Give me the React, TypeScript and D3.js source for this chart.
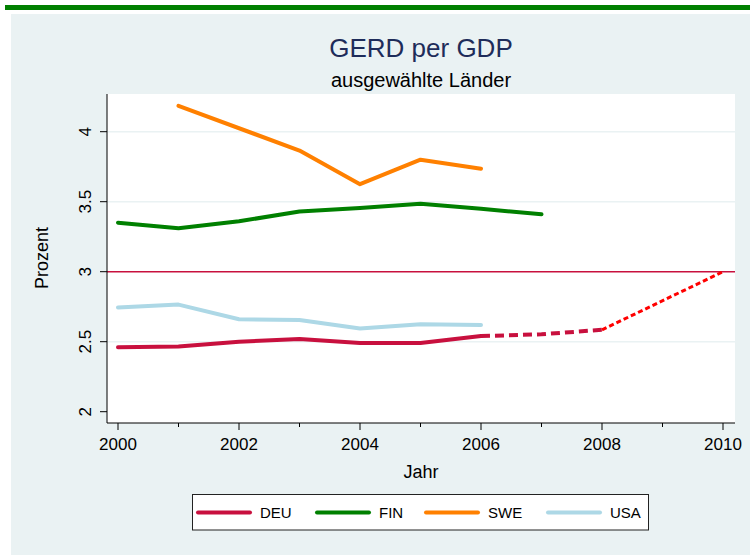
import React from "react";
import * as d3 from "d3";

const years = [2000, 2001, 2002, 2003, 2004, 2005, 2006, 2007];
const deuValues = [2.46, 2.465, 2.5, 2.52, 2.49, 2.49, 2.54, null];
const finValues = [3.35, 3.31, 3.36, 3.43, 3.455, 3.485, 3.45, 3.41];
const sweValues = [null, 4.185, null, 3.865, 3.625, 3.8, 3.735, null];
const usaValues = [2.745, 2.765, 2.66, 2.655, 2.595, 2.625, 2.62, null];

const deuForecastYears = [2006, 2007, 2008];
const deuForecastValues = [2.54, 2.553, 2.585];
const targetYears = [2008, 2010];
const targetValues = [2.585, 3.0];

const xTicksMajor = [2000, 2002, 2004, 2006, 2008, 2010];
const xTicksMinor = [2001, 2003, 2005, 2007, 2009];
const yTicks = [2, 2.5, 3, 3.5, 4];
const yTickLabels = ["2", "2.5", "3", "3.5", "4"];
const gridValues = [2.5, 3.5, 4];
const refValue = 3;

const legendLabels = ["DEU", "FIN", "SWE", "USA"];
const legendColors = ["#C8103E", "#008000", "#FF8000", "#ADD8E6"];

const FONT = "'Liberation Sans', Arial, sans-serif";

export default function App() {
  const W = 750;
  const H = 560;
  const plotL = 107, plotR = 735, plotT = 94, plotB = 423;
  const x = d3.scaleLinear().domain([2000, 2010]).range([118, 723]);
  const y = d3.scaleLinear().domain([2, 4]).range([411.7, 131.7]);

  const line = d3
    .line<[number, number | null]>()
    .defined((d) => d[1] !== null)
    .x((d) => x(d[0]))
    .y((d) => y(d[1] as number));

  const series: [Array<number | null>, string][] = [
    [usaValues, legendColors[3]],
    [sweValues, legendColors[2]],
    [finValues, legendColors[1]],
    [deuValues, legendColors[0]],
  ];

  const pathFor = (vals: Array<number | null>) => {
    const pts = years
      .map((yr, i) => [yr, vals[i]] as [number, number | null])
      .filter((d) => d[1] !== null);
    return line(pts) || "";
  };

  const legendLineXs = [198, 317, 426, 548];
  const legendTextXs = [260, 379, 488, 610];

  return (
    <svg width={W} height={H} style={{ position: "absolute", left: 0, top: 0 }}>
      <rect x={0} y={0} width={W} height={H} fill="#ffffff" />
      <rect x={5} y={5} width={745} height={5} fill="#008000" />
      <rect x={11} y={14} width={739} height={541} fill="#EAF2F3" />
      <rect x={plotL} y={plotT} width={plotR - plotL} height={plotB - plotT} fill="#ffffff" />

      {gridValues.map((g) => (
        <line key={g} x1={plotL} x2={plotR} y1={y(g)} y2={y(g)} stroke="#EAF2F3" strokeWidth={1.5} />
      ))}

      <line x1={plotL} x2={plotR} y1={y(refValue)} y2={y(refValue)} stroke="#C8103E" strokeWidth={1.5} />

      {series.map(([vals, color], i) => (
        <path key={i} d={pathFor(vals)} fill="none" stroke={color} strokeWidth={4} strokeLinecap="round" strokeLinejoin="round" />
      ))}

      <path
        d={line(deuForecastYears.map((yr, i) => [yr, deuForecastValues[i]] as [number, number])) || ""}
        fill="none"
        stroke="#C8103E"
        strokeWidth={4}
        strokeDasharray="9 5"
      />
      <path
        d={line(targetYears.map((yr, i) => [yr, targetValues[i]] as [number, number])) || ""}
        fill="none"
        stroke="#FF0000"
        strokeWidth={3}
        strokeDasharray="5 3"
      />

      <line x1={plotL} x2={plotL} y1={plotT} y2={plotB} stroke="#000" strokeWidth={1} />
      <line x1={plotL} x2={plotR} y1={plotB} y2={plotB} stroke="#000" strokeWidth={1} />
      {yTicks.map((t, i) => (
        <g key={t}>
          <line x1={plotL - 7} x2={plotL} y1={y(t)} y2={y(t)} stroke="#000" strokeWidth={1} />
          <text
            transform={`translate(91,${y(t)}) rotate(-90)`}
            textAnchor="middle"
            fontFamily={FONT}
            fontSize={17}
            fill="#000"
          >
            {yTickLabels[i]}
          </text>
        </g>
      ))}
      {xTicksMajor.map((t) => (
        <g key={t}>
          <line x1={x(t)} x2={x(t)} y1={plotB} y2={plotB + 7} stroke="#000" strokeWidth={1} />
          <text x={x(t)} y={450} textAnchor="middle" fontFamily={FONT} fontSize={17} fill="#000">
            {t}
          </text>
        </g>
      ))}
      {xTicksMinor.map((t) => (
        <line key={t} x1={x(t)} x2={x(t)} y1={plotB} y2={plotB + 4} stroke="#000" strokeWidth={1} />
      ))}

      <text x={421} y={478} textAnchor="middle" fontFamily={FONT} fontSize={18} fill="#000">
        Jahr
      </text>
      <text transform="translate(48,258) rotate(-90)" textAnchor="middle" fontFamily={FONT} fontSize={18} fill="#000">
        Prozent
      </text>

      <text x={421} y={57} textAnchor="middle" fontFamily={FONT} fontSize={26} fill="#1E2C5A">
        GERD per GDP
      </text>
      <text x={421} y={87} textAnchor="middle" fontFamily={FONT} fontSize={20} fill="#000">
        ausgewählte Länder
      </text>

      <rect x={192.5} y={494.5} width={456} height={35.5} fill="#ffffff" stroke="#222" strokeWidth={1} />
      {legendLabels.map((lab, i) => (
        <g key={lab}>
          <line
            x1={legendLineXs[i]}
            x2={legendLineXs[i] + 52}
            y1={512.5}
            y2={512.5}
            stroke={legendColors[i]}
            strokeWidth={4}
            strokeLinecap="round"
          />
          <text x={legendTextXs[i]} y={518} fontFamily={FONT} fontSize={15} fill="#000">
            {lab}
          </text>
        </g>
      ))}
    </svg>
  );
}
